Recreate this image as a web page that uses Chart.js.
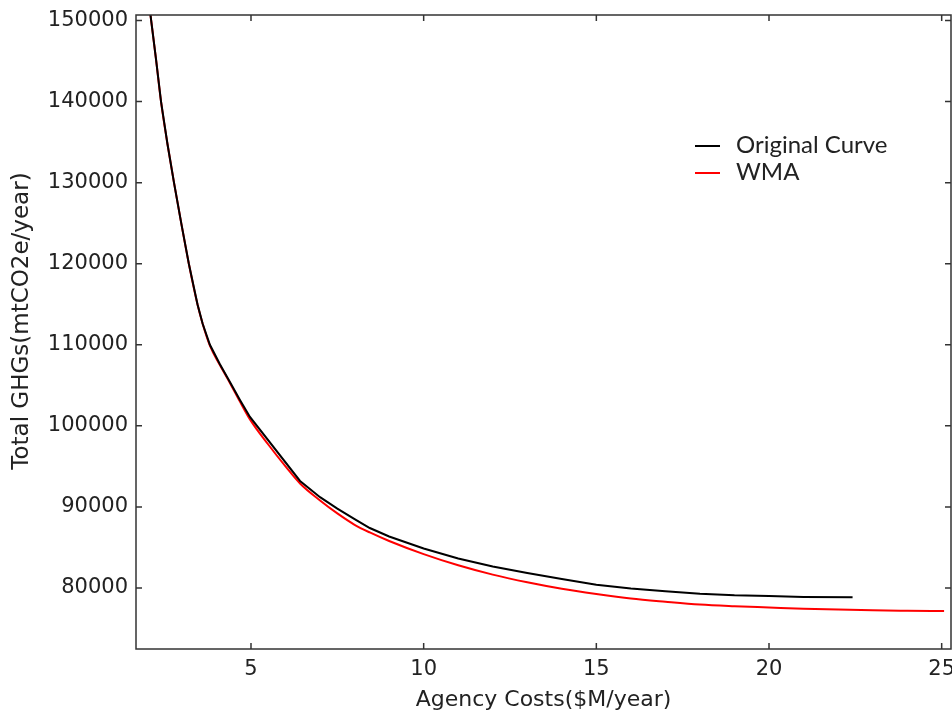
<!DOCTYPE html>
<html>
<head>
    <title>Agency Costs vs GHGs</title>
    <style>
        body { margin: 0; background: #fff; overflow: hidden; }
        #wrap { width: 952px; height: 715px; position: relative; }
    </style>
</head>
<body>
    <div id="wrap"><canvas id="myChart"></canvas></div>
</body>
<script src="https://cdn.jsdelivr.net/npm/chart.js"></script>
<script>
    // Original curve (straight pieces, kinks at 5 and 6.4)
    const origX = [2.08, 2.25, 2.395, 2.58, 2.77, 2.98, 3.2, 3.45, 3.6, 3.81, 4.1, 4.39, 4.68, 4.97, 6.42, 7, 7.5, 8, 8.44, 9, 10, 11, 12, 13, 14, 15, 16, 17, 18, 19, 20, 21, 22.42];
    const origY = [151000, 145200, 140000, 134800, 130000, 125000, 120000, 115000, 112600, 110000, 107600, 105400, 103200, 101100, 93200, 91200, 89800, 88500, 87400, 86350, 84880, 83650, 82650, 81850, 81100, 80400, 79950, 79600, 79300, 79100, 79000, 78900, 78850];

    // WMA smoothed curve
    const wmaX = [2.08, 2.25, 2.395, 2.58, 2.77, 2.98, 3.2, 3.45, 3.6, 3.81, 4.1, 4.39, 4.68, 4.97, 5.5, 6, 6.42, 7, 7.5, 8, 8.44, 9, 10, 11, 12, 13, 14, 15, 16, 17, 18, 19, 20, 21, 22, 23, 24, 25.07];
    const wmaY = [151000, 145200, 140000, 134800, 130000, 125000, 120000, 115000, 112600, 109900, 107500, 105300, 103000, 100800, 97700, 95000, 92900, 90800, 89200, 87800, 86850, 85800, 84180, 82800, 81650, 80700, 79900, 79260, 78700, 78300, 77950, 77750, 77600, 77450, 77350, 77250, 77200, 77160];

    const xTicks = [5, 10, 15, 20, 25];
    const yTicks = [80000, 90000, 100000, 110000, 120000, 130000, 140000, 150000];

    const seriesNames = ["Original Curve", "WMA"];
    const seriesColors = ["#000000", "#ff0000"];

    function toPoints(xs, ys){
        return xs.map((x, i) => ({x: x, y: ys[i]}));
    }

    // matplotlib style frame with ticks pointing inwards
    const framePlugin = {
        id: 'frame',
        afterDraw(chart){
            const ctx = chart.ctx;
            const a = chart.chartArea;
            const xs = chart.scales.x;
            const ys = chart.scales.y;
            ctx.save();
            ctx.strokeStyle = '#333';
            ctx.lineWidth = 1.5;
            ctx.strokeRect(a.left, a.top, a.right - a.left, a.bottom - a.top);
            ctx.beginPath();
            xTicks.forEach(v => {
                const px = xs.getPixelForValue(v);
                ctx.moveTo(px, a.bottom); ctx.lineTo(px, a.bottom - 6);
                ctx.moveTo(px, a.top); ctx.lineTo(px, a.top + 6);
            });
            yTicks.forEach(v => {
                const py = ys.getPixelForValue(v);
                ctx.moveTo(a.left, py); ctx.lineTo(a.left + 6, py);
                ctx.moveTo(a.right, py); ctx.lineTo(a.right - 6, py);
            });
            ctx.stroke();
            ctx.restore();
        }
    };

    // legend inside the plot, top right
    const legendPlugin = {
        id: 'innerLegend',
        afterDraw(chart){
            const ctx = chart.ctx;
            ctx.save();
            ctx.font = '24px Lato';
            ctx.textBaseline = 'middle';
            ctx.fillStyle = '#222';
            chart.data.datasets.forEach((ds, i) => {
                const y = 146 + i * 27;
                ctx.strokeStyle = ds.borderColor;
                ctx.lineWidth = 2;
                ctx.beginPath();
                ctx.moveTo(695, y);
                ctx.lineTo(720, y);
                ctx.stroke();
                ctx.fillText(ds.label, 736, y - 1);
            });
            ctx.restore();
        }
    };

    const data = {
        datasets: [{
            label: seriesNames[0],
            data: toPoints(origX, origY),
            borderColor: seriesColors[0],
            borderWidth: 2,
            pointRadius: 0,
            tension: 0
        }, {
            label: seriesNames[1],
            data: toPoints(wmaX, wmaY),
            borderColor: seriesColors[1],
            borderWidth: 2,
            pointRadius: 0,
            cubicInterpolationMode: 'monotone'
        }]
    };

    const config = {
        type: 'line',
        data,
        options: {
            responsive: true,
            maintainAspectRatio: false,
            animation: false,
            layout: { padding: { left: 8, top: 15, right: 1, bottom: 0 } },
            plugins: { legend: { display: false }, tooltip: { enabled: false } },
            scales: {
                x: {
                    type: 'linear',
                    min: 1.67,
                    max: 25.27,
                    grid: { display: false, drawTicks: false },
                    border: { display: false },
                    afterBuildTicks: scale => { scale.ticks = xTicks.map(v => ({value: v})); },
                    afterFit: scale => { scale.height = 66; scale.paddingLeft = 0; scale.paddingRight = 0; },
                    ticks: { font: { family: 'DejaVu Sans', size: 21 }, color: '#222', padding: 8, maxRotation: 0, callback: v => String(v) },
                    title: { display: true, text: 'Agency Costs($M/year)', font: { family: 'DejaVu Sans', size: 22 }, color: '#222', padding: { top: 0, bottom: 2 } }
                },
                y: {
                    min: 72476,
                    max: 150680,
                    grid: { display: false, drawTicks: false },
                    border: { display: false },
                    afterBuildTicks: scale => { scale.ticks = yTicks.map(v => ({value: v})); },
                    afterFit: scale => { scale.width = 128; scale.paddingTop = 0; scale.paddingBottom = 0; },
                    ticks: { font: { family: 'DejaVu Sans', size: 21 }, color: '#222', padding: 8, callback: v => String(v) },
                    title: { display: true, text: '   Total GHGs(mtCO2e/year)', font: { family: 'DejaVu Sans', size: 23 }, color: '#222', padding: 0 }
                }
            }
        },
        plugins: [framePlugin, legendPlugin]
    };

    let myChart = new Chart(document.getElementById('myChart'), config);
</script>
</html>
